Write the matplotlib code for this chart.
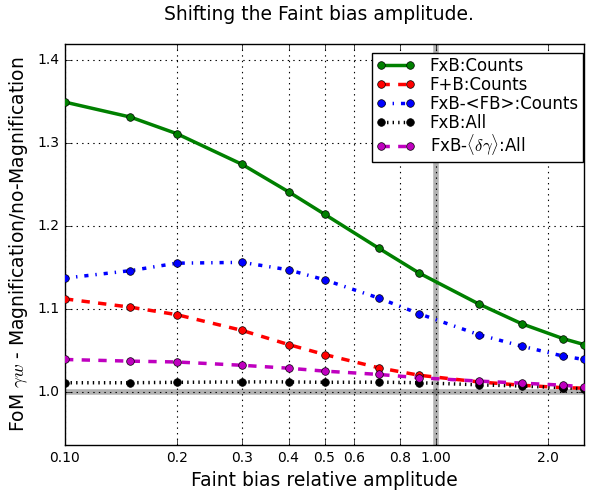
import matplotlib
matplotlib.use("Agg")
import matplotlib.pyplot as plt
from matplotlib.ticker import NullLocator, FixedLocator, FixedFormatter

plt.style.use("classic")

x = [0.1, 0.15, 0.2, 0.3, 0.4, 0.5, 0.7, 0.9, 1.3, 1.7, 2.2, 2.5]
fxb_counts = [1.349, 1.331, 1.311, 1.274, 1.241, 1.214, 1.173, 1.143, 1.106, 1.082, 1.064, 1.057]
fpb_counts = [1.112, 1.102, 1.093, 1.074, 1.057, 1.045, 1.029, 1.020, 1.012, 1.008, 1.005, 1.0045]
fxb_fb_counts = [1.137, 1.146, 1.155, 1.156, 1.147, 1.135, 1.113, 1.094, 1.069, 1.055, 1.043, 1.039]
fxb_all = [1.011, 1.011, 1.0115, 1.012, 1.012, 1.0115, 1.0117, 1.011, 1.0085, 1.007, 1.005, 1.0036]
fxb_dg_all = [1.039, 1.037, 1.036, 1.032, 1.0285, 1.025, 1.021, 1.017, 1.013, 1.0105, 1.008, 1.006]

labels = ["FxB:Counts", "F+B:Counts", "FxB-<FB>:Counts", "FxB:All",
          r"FxB-$\langle\delta\gamma\rangle$:All"]
xticks = [0.1, 0.2, 0.3, 0.4, 0.5, 0.6, 0.8, 1.0, 2.0]
xticklabels = ["0.10", "0.2", "0.3", "0.4", "0.5", "0.6", "0.8", "1.00", "2.0"]
yticks = [1.0, 1.1, 1.2, 1.3, 1.4]

fig = plt.figure(figsize=(5.89, 4.91), dpi=100, facecolor="white")
ax = fig.add_axes([65/589, 1-445/491, (584-65)/589, (445-44)/491])

ax.axhline(1.0, color="k", lw=4, alpha=0.3, zorder=1)
ax.axvline(1.0, color="k", lw=4, alpha=0.3, zorder=1)

ms = 5.5
ax.plot(x, fxb_counts, "g-", lw=2.5, marker="o", ms=ms, label=labels[0], zorder=3)
ax.plot(x, fpb_counts, "r--", lw=2.5, marker="o", ms=ms, label=labels[1], zorder=3)
ax.plot(x, fxb_fb_counts, "b-.", lw=2.5, marker="o", ms=ms, label=labels[2], zorder=3)
ax.plot(x, fxb_all, "k:", lw=2.5, marker="o", ms=ms, label=labels[3], zorder=3)
ax.plot(x, fxb_dg_all, "m--", lw=2.5, marker="o", ms=ms, label=labels[4], zorder=3)

ax.set_xscale("log")
ax.set_xlim(0.1, 2.5)
ax.set_ylim(0.936, 1.419)
ax.xaxis.set_major_locator(FixedLocator(xticks))
ax.xaxis.set_major_formatter(FixedFormatter(xticklabels))
ax.xaxis.set_minor_locator(NullLocator())
ax.set_yticks(yticks)
ax.set_yticklabels(["1.0", "1.1", "1.2", "1.3", "1.4"])
ax.tick_params(labelsize=10)
ax.grid(True, color="k", linestyle=":", lw=0.8)

ax.set_xlabel("Faint bias relative amplitude", fontsize=13.5)
ax.set_ylabel(r"FoM $\gamma w$ - Magnification/no-Magnification", fontsize=13.5)
fig.text(319/589, 1-14/491, "Shifting the Faint bias amplitude.", ha="center", va="center", fontsize=13.5)

leg = ax.legend(loc="upper right", bbox_to_anchor=(583/589, 1-53/491),
                bbox_transform=fig.transFigure, borderaxespad=0,
                fontsize=12, numpoints=2, handlelength=2.3, handletextpad=0.9,
                borderpad=0.25, labelspacing=0.05)
leg.get_frame().set_linewidth(1.0)

fig.savefig("out.png", dpi=100, facecolor="white")
